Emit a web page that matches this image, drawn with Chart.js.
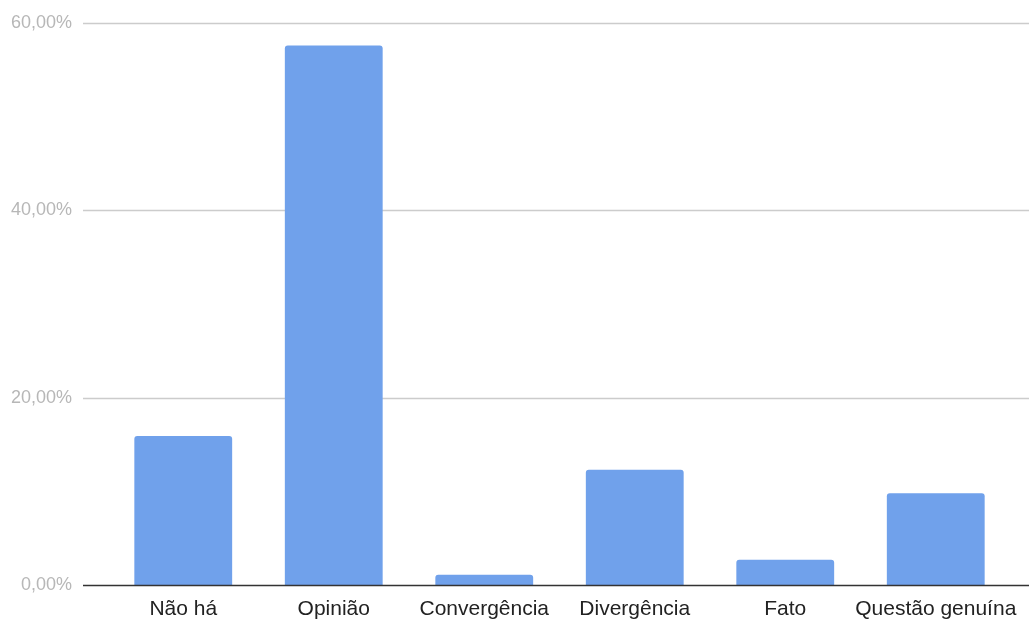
<!DOCTYPE html>
<html>
<head>
<meta charset="utf-8">
<script src="https://cdn.jsdelivr.net/npm/chart.js@4/dist/chart.umd.min.js"></script>
<style>
  html, body { margin: 0; padding: 0; background: #ffffff; }
  #wrap { width: 1029px; height: 621px; position: relative; }
</style>
</head>
<body>
<div id="wrap"><canvas id="c"></canvas></div>
<script>
// Categories and their shares (%)
const categories = ['Não há', 'Opinião', 'Convergência', 'Divergência', 'Fato', 'Questão genuína'];
const shares = [15.9, 57.6, 1.1, 12.3, 2.7, 9.8];
const yTicks = [0, 20, 40, 60];

const fmtPct = v => v.toFixed(2).replace('.', ',') + '%';

// Horizontal guide lines run the full width, past the category band
function drawRule(chart, value, color, width) {
  const { ctx, chartArea, scales } = chart;
  const py = Math.round(scales.y.getPixelForValue(value)) + 0.5;
  ctx.save();
  ctx.beginPath();
  ctx.moveTo(chartArea.left - 25, py);
  ctx.lineTo(chart.width, py);
  ctx.strokeStyle = color;
  ctx.lineWidth = width;
  ctx.stroke();
  ctx.restore();
}

const wideGrid = {
  id: 'wideGrid',
  beforeDatasetsDraw(chart) {
    yTicks.filter(v => v !== 0).forEach(v => drawRule(chart, v, '#cccccc', 1.3));
  },
  afterDatasetsDraw(chart) {
    // baseline sits on top of the bars
    drawRule(chart, 0, '#333333', 1.5);
  }
};

new Chart(document.getElementById('c'), {
  type: 'bar',
  data: {
    labels: categories,
    datasets: [{
      data: shares,
      backgroundColor: '#70a1eb',
      borderWidth: 0,
      borderRadius: { topLeft: 3, topRight: 3, bottomLeft: 0, bottomRight: 0 },
      borderSkipped: 'bottom',
      categoryPercentage: 1,
      barPercentage: 0.65
    }]
  },
  plugins: [wideGrid],
  options: {
    responsive: true,
    maintainAspectRatio: false,
    animation: false,
    layout: { padding: { top: 23, right: 18, bottom: 0, left: 0 } },
    plugins: {
      legend: { display: false },
      tooltip: { enabled: false }
    },
    scales: {
      x: {
        grid: { display: false, drawTicks: false },
        border: { display: false },
        ticks: {
          color: '#222222',
          padding: 12,
          maxRotation: 0,
          autoSkip: false,
          font: { family: '"Liberation Sans", Arial, sans-serif', size: 21 }
        },
        afterFit(scale) {
          scale.height = 36;
          scale.paddingLeft = 0;
          scale.paddingRight = 0;
        }
      },
      y: {
        min: 0,
        max: 60,
        grid: { display: false, drawTicks: false },
        border: { display: false },
        afterBuildTicks(scale) { scale.ticks = yTicks.map(v => ({ value: v })); },
        ticks: {
          color: '#b7b7b7',
          padding: 36,
          font: { family: '"Liberation Sans", Arial, sans-serif', size: 18 },
          callback: v => fmtPct(v)
        },
        afterFit(scale) {
          scale.width = 108;
          scale.paddingTop = 0;
          scale.paddingBottom = 0;
        }
      }
    }
  }
});
</script>
</body>
</html>
